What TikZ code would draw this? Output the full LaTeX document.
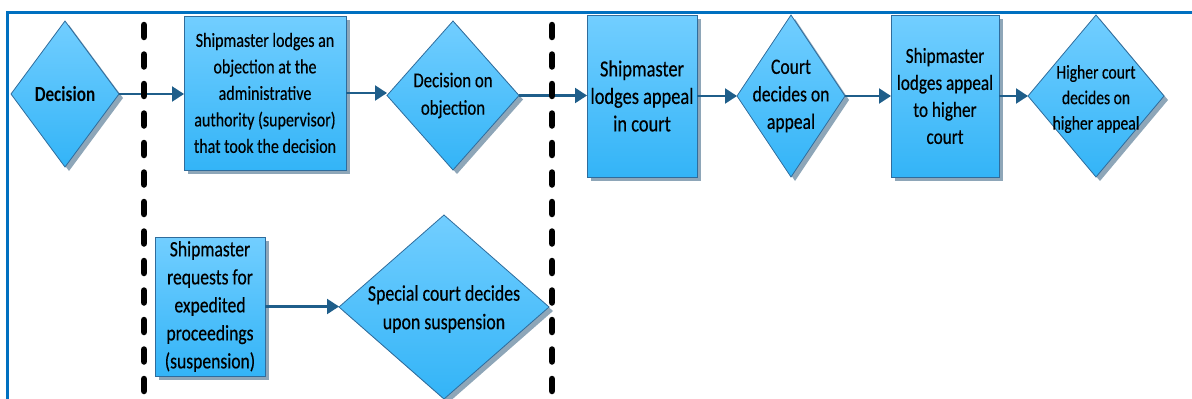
\documentclass[tikz,border=0pt]{standalone}
\usepackage{fontspec}
\setmainfont{Carlito}[FakeStretch=0.8, UprightFeatures={FakeBold=0.35}]
\usetikzlibrary{shapes.geometric,arrows.meta,shadows}

\definecolor{frameblue}{HTML}{0070C0}
\definecolor{filltop}{HTML}{72CEFF}
\definecolor{fillbot}{HTML}{33B4F7}
\definecolor{edgeblue}{HTML}{2F6C9C}
\definecolor{shadowgray}{HTML}{8EA6B8}
\definecolor{arrowblue}{HTML}{1F5E8A}

\newcommand{\txt}[2]{\fontsize{#1}{#2}\selectfont}

\tikzset{
  shape base/.style={draw=edgeblue, line width=0.8pt, top color=filltop, bottom color=fillbot,
    drop shadow={shadow xshift=4pt, shadow yshift=-4pt, fill=shadowgray, opacity=1},
    inner sep=0pt, outer sep=0pt},
  stepbox/.style={shape base, rectangle, align=center, font=\txt{20}{26.5}},
  choice/.style={shape base, diamond},
  choicetext/.style={align=center, font=\txt{20}{27}, inner sep=0pt},
  flow/.style={draw=arrowblue, line width=2.2pt, -{Triangle[length=12pt,width=15pt]}},
  lane/.style={draw=black, line width=6.5pt, line cap=round, dash pattern=on 12pt off 17.5pt},
}

\begin{document}
\begin{tikzpicture}[x=1pt, y=-1pt]
\useasboundingbox (0,0) rectangle (1192,399);

% outer frame (top and left edges)
\draw[frameblue, line width=3pt] (7.5,399) -- (7.5,12.5) -- (1192,12.5);

% top row
\node[choice, minimum width=108pt, minimum height=146pt,
      label={[choicetext, font=\txt{21.5}{27}\bfseries]center:Decision}] (dec) at (65,94) {};
\node[stepbox, minimum width=162pt, minimum height=154pt] (obj) at (265,93)
  {Shipmaster lodges an\\objection at the\\administrative\\authority (supervisor)\\that took the decision};
\node[choice, minimum width=132pt, minimum height=149pt,
      label={[choicetext, font=\txt{21}{27.5}]center:Decision on\\objection}] (dobj) at (453,95.5) {};
\node[stepbox, minimum width=110pt, minimum height=162pt, font=\txt{23}{27.5}] (app) at (642,96)
  {Shipmaster\\lodges appeal\\in court};
\node[choice, minimum width=108pt, minimum height=162pt,
      label={[choicetext, font=\txt{22}{27.5}]center:Court\\decides on\\appeal}] (court) at (791,96) {};
\node[stepbox, minimum width=108pt, minimum height=162pt, font=\txt{21.5}{27}] (happ) at (945,96)
  {Shipmaster\\lodges appeal\\to higher\\court};
\node[choice, minimum width=136pt, minimum height=162pt,
      label={[choicetext, font=\txt{19.5}{25.5}, yshift=-3pt]center:Higher court\\decides on\\higher appeal}] (high) at (1096,96) {};

% bottom row
\node[stepbox, minimum width=110pt, minimum height=139pt, font=\txt{22}{28}] (exp) at (210,306.5)
  {Shipmaster\\requests for\\expedited\\proceedings\\(suspension)};
\node[choice, minimum width=210pt, minimum height=184pt,
      label={[choicetext, font=\txt{22.3}{28.5}, yshift=-2pt]center:Special court decides\\upon suspension}] (spec) at (444,307) {};

% connectors
\draw[flow] (dec.east) -- (dec.east -| obj.west);
\draw[flow] (obj.east) -- (obj.east -| dobj.west);
\draw[flow] (dobj.east) -- (dobj.east -| app.west);
\draw[flow] (app.east) -- (app.east -| court.west);
\draw[flow] (court.east) -- (court.east -| happ.west);
\draw[flow] (happ.east) -- (happ.east -| high.west);
\draw[flow] (exp.east) -- (exp.east -| spec.west);

% phase separators
\coordinate (s1top) at (144,25);
\coordinate (s1bot) at (144,405);
\coordinate (s2top) at (552,25);
\coordinate (s2bot) at (552,405);
\draw[lane] (s1top) -- (s1bot);
\draw[lane] (s2top) -- (s2bot);
\end{tikzpicture}
\end{document}
